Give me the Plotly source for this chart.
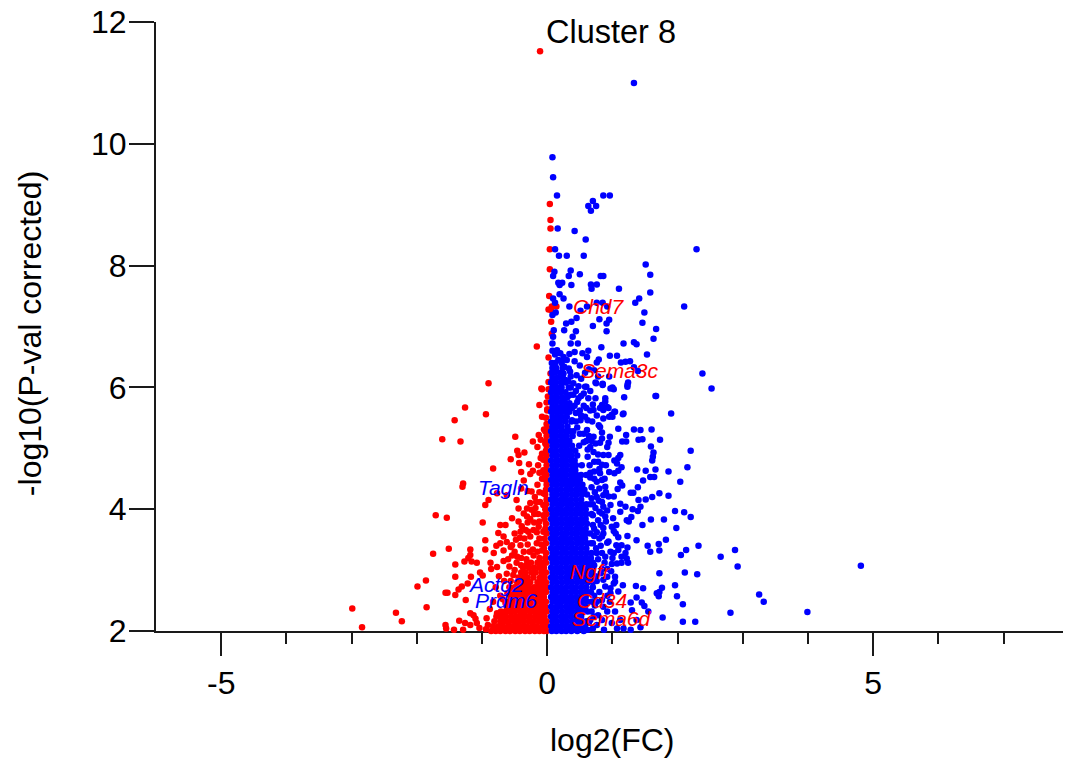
import plotly.graph_objects as go

# Isolated points: (log2FC, -log10 p)
red_points = [
(-.11,11.52),(.04,9.01),(.05,8.75),(.05,8.61),(.04,8.27),(.04,7.94),(.03,7.50),(.07,7.33),(.14,7.33),(.02,7.28),(.06,7.27),
(.06,7.08),(.07,6.88),(-.16,6.67),(.02,6.49),(.05,6.23),(.02,6.09),(-.09,5.98),(.02,5.97),(-.08,5.97),(-.12,5.71),(0,5.64),(-.08,5.52),
(-.05,5.31),(0,5.33),(.02,5.27),(0,5.22),(-.03,5.28),
(-.90,6.07),(-1.26,5.67),(-.94,5.56),(-1.42,5.46),(-1.61,5.15),(-1.33,5.11),(-.49,5.19),(-.22,5.11),(-.15,5.02),(-.46,4.96),
(-.35,4.93),(-.44,4.89),(-.08,4.91),(-.56,4.82),(-.43,4.76),(-.06,4.81),(-.28,4.74),(-.83,4.67),(-.40,4.61),(-.26,4.58),(-.22,4.63),
(-.06,4.64),(-.04,4.56),(-.36,4.47),(-.08,4.50),(-1.29,4.42),(-1.30,4.37),(-.24,4.29),(-.06,4.26),(-.77,4.26),(-.62,4.23),(-.90,4.15),
(-.95,4.07),(-.47,4.15),(-.11,4.12),(-.26,4.10),(-.31,4.01),(-.24,3.99),(-.06,4.07),(-.44,4.01),(-.36,3.93),(-1.71,3.90),(-1.54,3.86),
(-.54,3.85),(-.31,3.88),(-.06,3.90),(-.99,3.78),(-.72,3.74),(-.64,3.74),(-.39,3.72),(-.13,3.71),(-.75,3.61),(-.41,3.63),(-.29,3.63),
(-.21,3.66),(-.06,3.63),(-.67,3.55),(-.42,3.53),(-.26,3.55),(-.95,3.49),(-.72,3.44),(-.78,3.40),(-.54,3.41),(-.41,3.41),(-.16,3.44),
(-1.51,3.35),(-.95,3.34),(-1.18,3.34),(-.67,3.32),(-.82,3.28),(-1.75,3.27),(-1.18,3.25),(-1.21,3.20),(-1.16,3.14),(-1.08,3.12),
(-1.27,3.14),(-.87,3.12),(-.77,3.05),(-1.41,3.09),(-.67,3.15),(-.54,3.24),(-.36,3.30),(-.21,3.24),(-.58,3.06),(-.86,3.02),(-.47,3.12),
(-.32,3.18),(-.12,3.20),(-.08,3.32),(-.60,3.18),(-.50,3.30),(-.30,3.42),(-.12,3.52),(-.15,3.30),(-.35,3.52),(-.48,3.50),(-.20,3.78),
(-.30,3.78),(-.44,3.80),(-.14,3.92),(-.18,4.02),(-.16,3.62),
(-.46,3.22),(-.40,3.20),(-.27,3.30),(-.22,3.34),(-.31,3.10),(-.40,3.08),(-.56,3.38),(-.62,3.46),(-.50,3.60),(-.33,3.66),(-.12,3.80),(-.20,3.92),
(-.26,3.84),(-.17,4.12),(-.12,4.28),(-.15,4.40),(-.19,4.20),(-.30,4.30),(-.40,4.34),(-.12,4.60),(-.14,4.72),(-.10,4.84),(-.09,3.42),
(-.03,5.08),(-.10,5.14),(-.13,5.22),
(-1.03,2.96),(-.99,2.91),(-1.41,2.89),(-1.17,2.89),(-1.86,2.83),(-1.22,2.78),(-1.31,2.73),(-1.36,2.68),(-1.99,2.73),(-1.56,2.63),
(-1.53,2.63),(-1.41,2.59),(-1.25,2.51),(-2.99,2.37),(-2.32,2.30),(-1.85,2.39),(-2.23,2.16),(-2.84,2.06),(-1.56,2.10),(-1.55,2.04),
(-1.43,2.02),(-1.29,2.02),(-1.35,2.17),(-1.18,2.29),(-1.13,2.26),(-1.10,2.20),(-1.26,2.13),(-1.18,2.10),(-1.08,2.13),(-.93,2.21),
(-.91,2.10),(-.94,2.03),(-1.04,2.05),(-.77,2.29),(-.88,2.36),(-.83,2.48),(-.72,2.58),(-.79,2.72),(-.66,2.82),(-.74,2.90),(-.62,2.94),
(-.64,2.46),(-.68,2.52),(-.61,2.62),(-.58,2.72),(-.56,2.82),(-.52,2.92),(-.50,3.00),
]
# Dense red mass: levels of -log10 p with the log2FC values read at that level
red_levels = [2.00,2.08,2.16,2.24,2.32,2.40,2.48,2.56,2.64,2.72,2.80,2.88,2.96,3.04,3.12]
red_rows = [
[-.86,-.79,-.72,-.64,-.57,-.49,-.42,-.34,-.27,-.19,-.12,-.05,-.01],
[-.83,-.75,-.68,-.60,-.53,-.46,-.38,-.31,-.23,-.16,-.08,-.02],
[-.81,-.72,-.65,-.58,-.50,-.43,-.36,-.28,-.21,-.13,-.06,-.01],
[-.78,-.70,-.63,-.55,-.47,-.40,-.33,-.26,-.18,-.11,-.04],
[-.71,-.64,-.57,-.50,-.42,-.35,-.27,-.20,-.13,-.06,-.01],
[-.62,-.55,-.47,-.40,-.32,-.25,-.18,-.10,-.03],
[-.60,-.52,-.44,-.37,-.30,-.22,-.15,-.08,-.02],
[-.56,-.49,-.41,-.34,-.26,-.19,-.12,-.05],
[-.53,-.46,-.38,-.31,-.24,-.17,-.09,-.02],
[-.50,-.43,-.35,-.28,-.20,-.13,-.06,-.01],
[-.46,-.38,-.31,-.26,-.15,-.08,-.02],
[-.44,-.36,-.30,-.21,-.11,-.04],
[-.40,-.33,-.24,-.18,-.09,-.02],
[-.37,-.28,-.20,-.12,-.05],
[-.25,-.15,-.08,-.02],
]
# Thin red edge along zero
red_edge_y = [3.2,3.28,3.36,3.44,3.52,3.6,3.68,3.76,3.84,3.92,4.0,4.08,4.16,4.24,4.32,4.4,4.48,4.56,4.64,4.72,4.8,4.88,4.96,5.04,5.12,5.2,5.4,5.5,5.62,5.75,5.85]
red_edge_x = [-.03,-.02,-.05,-.02,-.04,-.01,-.03,-.02,-.04,-.01,-.03,-.02,-.01,-.03,-.02,-.01,-.02,-.01,-.02,-.01,-.02,-.01,-.02,-.01,-.02,-.01,-.01,-.02,.0,-.01,.01]

blue_points = [
(1.33,11.0),(.08,9.78),(.09,9.45),(.15,9.15),(.86,9.15),(.96,9.15),(.70,9.06),(.63,8.98),(.75,8.98),(.67,8.90),(.16,8.61),(.42,8.57),(.59,8.43),
(2.29,8.27),(.12,8.27),(.18,8.16),(.30,8.16),(.56,8.16),(1.51,8.02),(1.58,7.85),(.11,7.90),(.09,7.83),(.36,7.92),(.33,7.83),(.50,7.86),(.82,7.83),
(.86,7.83),(.17,7.72),(.23,7.72),(.19,7.68),(.37,7.68),(.67,7.69),(.76,7.69),(.68,7.62),(1.10,7.62),(1.58,7.56),(.19,7.53),(.25,7.46),(.09,7.46),
(.12,7.39),(1.41,7.46),(1.35,7.39),(2.10,7.33),(.34,7.33),(.61,7.33),(.76,7.39),(.85,7.39),(.92,7.33),(1.49,7.23),(.51,7.26),(.13,7.23),(.08,7.19),
(.45,7.14),(.37,7.08),(.29,7.05),(.80,7.12),(.95,7.11),(.91,7.05),(.70,7.01),(1.46,7.06),(1.67,6.96),(.26,6.94),(.10,6.94),(.44,6.92),(.91,6.92),
(.09,6.83),(.39,6.83),(1.63,6.80),(.08,6.72),(.36,6.72),(.47,6.72),(1.17,6.72),(1.33,6.74),(1.37,6.71),(.83,6.66),(1.53,6.54),(.96,6.52),(1.07,6.52),
(.79,6.46),(.76,6.41),(1.13,6.41),(1.20,6.42),(1.27,6.43),(1.33,6.33),(1.39,6.27),(2.38,6.23),(2.52,5.98),(1.24,6.08),(1.23,6.01),(.95,6.18),(1.0,6.00),
(.85,6.04),(.74,6.08),(.60,6.01),(.63,6.60),(.54,6.56),(.42,6.58),(.34,6.55),(.61,6.50),(.42,6.43),(.25,6.50),(.15,6.61),(.20,6.56),(.30,6.45),(.17,6.45),
(.33,6.31),(.25,6.23),(.35,6.26),(.45,6.20),(.28,6.12),(.40,6.07),(.52,6.14),
(1.66,5.86),(1.18,5.84),(1.23,6.04),(.97,5.98),(1.02,5.97),(.85,6.06),(.75,6.07),(.58,6.01),(.74,5.82),(.63,5.82),(.89,5.77),(.94,5.66),(.81,5.66),
(.71,5.63),(1.04,5.60),(.99,5.55),(1.16,5.56),(.86,5.49),(.79,5.38),(.69,5.44),(.58,5.52),(.51,5.46),(1.09,5.32),(1.33,5.31),(1.43,5.30),(1.60,5.31),
(1.21,5.22),(.96,5.19),(.71,5.19),(.81,5.35),(.61,5.30),(1.90,5.57),(1.67,5.86),(1.17,5.57),(1.03,5.60),(1.0,5.52),
(1.40,5.14),(1.46,5.15),(1.73,5.14),(1.15,5.11),(1.21,5.11),(.94,5.09),(1.59,5.03),(2.20,4.96),(1.63,4.93),(1.62,4.86),(1.61,4.80),(1.12,4.89),(1.09,4.84),
(1.03,4.80),(1.07,4.75),(2.15,4.69),(1.38,4.65),(1.51,4.63),(1.66,4.65),(1.86,4.62),(1.14,4.69),(1.09,4.63),(.95,4.61),(1.03,4.59),(1.58,4.53),(1.64,4.53),
(1.47,4.47),(2.04,4.45),(1.12,4.44),(1.15,4.39),(1.08,4.33),(1.39,4.36),(1.28,4.27),(1.32,4.27),(1.72,4.26),(1.86,4.22),(1.61,4.20),(1.51,4.16),(1.40,4.15),
(1.43,4.04),(1.39,3.97),(1.31,4.0),(1.2,4.04),(1.12,4.09),(1.96,3.97),(2.10,3.95),(2.20,3.87),(1.59,3.83),(1.79,3.83),(1.29,3.87),(1.25,3.80),(1.46,3.74),
(1.98,3.69),(1.23,3.56),(1.37,3.49),(1.82,3.50),(1.71,3.43),(1.54,3.40),(2.32,3.40),(1.58,3.30),(1.72,3.32),(2.13,3.33),(2.05,3.25),(2.88,3.33),(2.66,3.22),
(2.92,3.06),(4.81,3.07),(1.72,2.95),(2.11,2.96),(2.30,2.93),(1.96,2.75),(1.16,2.75),(1.36,2.74),(1.47,2.70),(1.76,2.71),(1.68,2.62),(1.72,2.64),(1.71,2.57),
(1.99,2.57),(3.25,2.60),(3.32,2.48),(2.08,2.44),(1.37,2.55),(1.28,2.47),(1.45,2.47),(1.49,2.41),(2.81,2.30),(3.99,2.31),(1.55,2.32),(1.77,2.22),(2.08,2.15),
(2.27,2.15),(1.43,2.06),(1.28,2.02),(1.17,2.04),(1.07,2.04),(.87,2.02),(1.37,2.18),(1.30,2.34),(1.04,2.32),(1.09,2.65),(1.04,2.89),(1.02,2.78),(.97,2.70),
(1.06,3.41),(1.14,3.41),(1.23,3.37),(.94,3.47),(1.2,3.28),(1.09,3.33),(1.02,3.28),(.97,3.30),(1.14,3.22),(1.22,3.19),(1.24,3.12),(1.14,3.12),(1.07,3.11),
(.99,3.10),(.89,3.22),(.84,3.28),(.84,4.48),(.89,4.37),(.94,4.21),(1.02,4.21),(.86,4.23),(.97,4.07),(.86,4.04),(.84,3.93),(.89,3.88),(1.12,3.96),(1.22,3.82),
(1.01,3.85),(.99,3.71),(1.06,3.74),(1.05,3.60),(1.09,3.54),(1.02,3.64),(.86,3.69),(.84,3.55),(.92,3.45),(.81,4.59),(.84,4.73),(.86,4.89),(.81,5.09),(.84,5.16),
(.94,4.89),(.89,5.82),(.84,5.71),(.92,5.68),(.86,5.63),(.95,5.52),(.85,6.05),(.92,2.89),(1.04,2.81),(.97,2.62),(.89,2.73),(.84,2.51),(.92,2.32),(.99,2.13),
(.84,2.18),(1.12,2.18),(.76,2.10),(.70,2.04),(.62,2.02),(.78,2.26),(.73,2.42),(.80,2.64),(.76,2.82),(.82,2.95),(.72,3.08),(.78,3.18),(.75,3.36),(.80,3.52),
(.72,3.68),(.78,3.82),(.74,4.02),(.79,4.14),(.73,4.28),(.76,4.45),(.72,4.62),(.78,4.78),(.71,4.94),(.74,5.08),(.66,5.02),(.62,4.86),(.65,4.72),(.60,5.12),
(.56,5.24),(.46,5.34),(.40,5.28),(.66,5.62),(.56,5.70),(.48,5.82),(.50,5.62),(.42,5.70),(.36,5.88),
]
# Blue fringe beside the dense mass
blue_fringe = [
(.76,2.48),(.72,2.58),(.70,2.72),(.74,2.90),(.70,3.00),(.84,3.02),(.88,3.12),(.76,3.28),(.70,3.44),(.82,3.40),(.72,3.56),(.86,3.60),(.76,3.62),(.70,3.74),
(.82,3.74),(.90,3.80),(.70,3.90),(.80,3.96),(.92,3.98),(.70,4.08),(.84,4.12),(.76,4.20),(.68,4.18),(.90,4.28),(.80,4.34),(.68,4.36),(.88,4.50),(.72,4.50),
(.66,4.52),(.80,4.66),(.66,4.60),(.72,4.78),(.90,4.72),(.62,4.98),(.78,4.90),(.92,5.02),(.68,5.12),(.84,5.26),(.56,5.10),(.64,5.20),(.50,5.24),(.44,5.44),
(.38,5.46),(.52,5.54),(.60,5.66),(.44,5.58),(.38,5.66),(.46,5.76),(.34,5.74),(.40,5.88),(.52,5.86),(.44,5.94),(.36,6.00),(.48,6.02),(.32,6.10),(.36,6.18),
(.26,6.34),(.22,6.42),(.12,6.54),(.08,6.60),(.58,6.24),(.64,6.30),(.50,6.36),(.72,6.28),(.78,6.18),(.66,5.94),(.56,5.90),(.70,5.72),(.62,5.46),(.76,5.54),
(.72,2.24),(.64,2.14),(.58,2.10),(.68,2.32),(.66,2.18),(.52,2.04),(.44,2.02),(.86,2.40),(.92,2.58),(.96,2.48),(.86,2.84),(.98,2.98),(.92,3.02),(1.0,3.20),
]
# Dense blue mass: levels of -log10 p with the log2FC values read at that level
blue_levels = [2.0,2.08,2.16,2.24,2.32,2.40,2.48,2.56,2.64,2.72,2.80,2.88,2.96,3.04,3.12,3.20,3.28,3.36,3.44,3.52,3.60,3.68,3.76,3.84,3.92,
               4.00,4.08,4.16,4.24,4.32,4.40,4.48,4.56,4.64,4.72,4.80,4.88,4.96,5.04,5.12,5.20,5.28,5.36,5.44,5.52,5.60,5.68,5.76,5.84,5.92,6.00,6.08,6.16,6.24,6.32,6.40]
blue_rows = [
[.07,.14,.22,.29,.37,.46,.56],
[.06,.13,.20,.28,.35,.43,.50],
[.08,.15,.23,.30,.38,.45,.53,.60],
[.06,.13,.21,.28,.36,.44,.52],
[.08,.15,.23,.31,.38,.46,.54,.62],
[.06,.14,.21,.29,.36,.43,.51,.58],
[.08,.16,.23,.31,.38,.46,.53,.61,.68],
[.06,.13,.21,.28,.36,.44,.51,.59],
[.08,.15,.23,.30,.38,.45,.53,.60,.67],
[.06,.14,.21,.29,.37,.44,.52,.60],
[.08,.15,.23,.31,.38,.46,.54,.62,.70],
[.06,.13,.21,.29,.36,.44,.51,.59,.66],
[.08,.16,.23,.31,.38,.46,.53,.61,.69],
[.06,.14,.21,.29,.36,.44,.52,.60,.67],
[.08,.15,.23,.30,.38,.46,.54,.62,.70],
[.06,.13,.21,.29,.36,.44,.51,.59,.67],
[.08,.15,.23,.30,.38,.45,.53,.61,.68],
[.06,.14,.22,.29,.37,.44,.52,.60],
[.08,.16,.23,.31,.38,.46,.53,.61,.67],
[.06,.13,.21,.28,.36,.44,.51,.58],
[.08,.15,.23,.30,.38,.45,.53,.60,.66],
[.06,.14,.21,.29,.36,.44,.51,.59],
[.08,.15,.23,.31,.38,.46,.53,.61],
[.06,.13,.21,.29,.36,.44,.52,.59],
[.08,.15,.23,.30,.38,.45,.53,.60,.68],
[.06,.14,.21,.29,.36,.44,.51,.59],
[.08,.16,.23,.31,.38,.46,.53,.60,.66],
[.06,.13,.21,.28,.36,.44,.52],
[.08,.15,.23,.30,.38,.45,.53,.61],
[.06,.14,.21,.29,.36,.44,.51,.57],
[.08,.15,.23,.31,.38,.46,.54],
[.06,.13,.21,.28,.36,.43,.50],
[.08,.16,.23,.30,.38,.45,.52,.60],
[.06,.13,.21,.28,.36,.43],
[.08,.15,.23,.30,.38,.44,.53],
[.06,.14,.21,.28,.36,.42],
[.08,.15,.23,.30,.37,.46],
[.06,.13,.21,.28,.35,.43],
[.08,.15,.23,.30,.38,.49],
[.06,.13,.21,.27,.34],
[.08,.15,.22,.30,.39],
[.06,.13,.21,.28,.35],
[.08,.15,.22,.31],
[.06,.13,.20,.28,.37],
[.08,.15,.22,.30],
[.06,.13,.20,.27,.34],
[.08,.15,.22,.30],
[.06,.13,.21,.27],
[.08,.15,.23,.31],
[.06,.13,.20,.28],
[.08,.15,.22,.33],
[.06,.13,.21,.28],
[.08,.16,.24],
[.07,.12,.20],
[.08,.14,.24],
[.07,.12,.22],
]

x_ticks = [-5, 0, 5]
x_tick_labels = ["-5", "0", "5"]
x_minor_ticks = [-4, -3, -2, -1, 1, 2, 3, 4, 6, 7]
y_ticks = [2, 4, 6, 8, 10, 12]

gene_names = ["Chd7", "Sema3c", "Tagln", "Ngfr", "Actg2", "Prdm6", "Cd34", "Sema6d"]
gene_x = [.79, 1.12, -.67, .66, -.78, -.63, .84, 1.0]
gene_y = [7.33, 6.27, 4.35, 2.97, 2.76, 2.50, 2.50, 2.21]
gene_colors = ["red", "red", "blue", "red", "blue", "blue", "red", "red"]

FONT = "Liberation Sans, Arial, sans-serif"
AXIS_COLOR = "#1a1a1a"

red_x = [p[0] for p in red_points] + [x for row in red_rows for x in row] + red_edge_x
red_y = [p[1] for p in red_points] + [l for l, row in zip(red_levels, red_rows) for _ in row] + red_edge_y
blue_x = [p[0] for p in blue_points + blue_fringe] + [x for row in blue_rows for x in row]
blue_y = [p[1] for p in blue_points + blue_fringe] + [l for l, row in zip(blue_levels, blue_rows) for _ in row]

# Long tick marks at the labelled x values, drawn below the axis line
long_tick_x = [v for tv in x_ticks for v in (tv, tv, None)]
long_tick_y = [v for tv in x_ticks for v in (2, 1.62, None)]

fig = go.Figure()
fig.add_trace(go.Scatter(x=long_tick_x, y=long_tick_y, mode="lines", cliponaxis=False,
                         line=dict(color=AXIS_COLOR, width=2), showlegend=False, hoverinfo="skip"))
fig.add_trace(go.Scatter(x=red_x, y=red_y, mode="markers", cliponaxis=False,
                         marker=dict(color="#ff0000", size=6.5, line=dict(width=0)), showlegend=False))
fig.add_trace(go.Scatter(x=blue_x, y=blue_y, mode="markers", cliponaxis=False,
                         marker=dict(color="#0000ff", size=6.5, line=dict(width=0)), showlegend=False))
# Empty trace that carries the short unlabelled ticks on an overlaying x axis
fig.add_trace(go.Scatter(x=[], y=[], xaxis="x2", mode="markers", showlegend=False, hoverinfo="skip"))

for name, gx, gy, c in zip(gene_names, gene_x, gene_y, gene_colors):
    fig.add_annotation(x=gx, y=gy, text=f"<i>{name}</i>", showarrow=False,
                       font=dict(family=FONT, size=21, color=c))
fig.add_annotation(x=.98, y=11.84, text="Cluster 8", showarrow=False,
                   font=dict(family=FONT, size=32.5, color="black"))
fig.add_annotation(xref="paper", yref="paper", x=.503, y=-.179, xanchor="center", yanchor="middle",
                   text="log2(FC)", showarrow=False, font=dict(family=FONT, size=32, color="black"))
fig.add_annotation(xref="paper", yref="paper", x=-.139, y=.489, xanchor="center", yanchor="middle",
                   text="-log10(P-val corrected)", textangle=-90,
                   showarrow=False, font=dict(family=FONT, size=32, color="black"))

axis_common = dict(showgrid=False, zeroline=False, showline=True, linecolor=AXIS_COLOR, linewidth=2,
                   tickcolor=AXIS_COLOR, tickwidth=2, ticks="outside",
                   tickfont=dict(family=FONT, size=32, color="black"), layer="below traces")
tick_only = dict(range=[-6, 7.91], overlaying="x", side="bottom", anchor="y", tickmode="array",
                 showticklabels=False, ticks="outside", tickwidth=2, tickcolor=AXIS_COLOR,
                 showgrid=False, zeroline=False, showline=False)
fig.update_layout(
    xaxis=dict(range=[-6, 7.91], tickmode="array", tickvals=x_ticks, ticktext=x_tick_labels, ticklen=23,
               ticklabelstandoff=0, **axis_common),
    xaxis2=dict(tickvals=x_minor_ticks, ticklen=12, **tick_only),
    yaxis=dict(range=[2, 12], tickmode="array", tickvals=y_ticks, ticklen=25, ticklabelstandoff=-4,
               ticklabeloverflow="allow", **axis_common),
    width=1065, height=761, margin=dict(l=156, r=2, t=22, b=130),
    plot_bgcolor="white", paper_bgcolor="white", showlegend=False)
fig.write_html("out.html", post_script="document.body.style.margin='0';", config={"displayModeBar": False})
